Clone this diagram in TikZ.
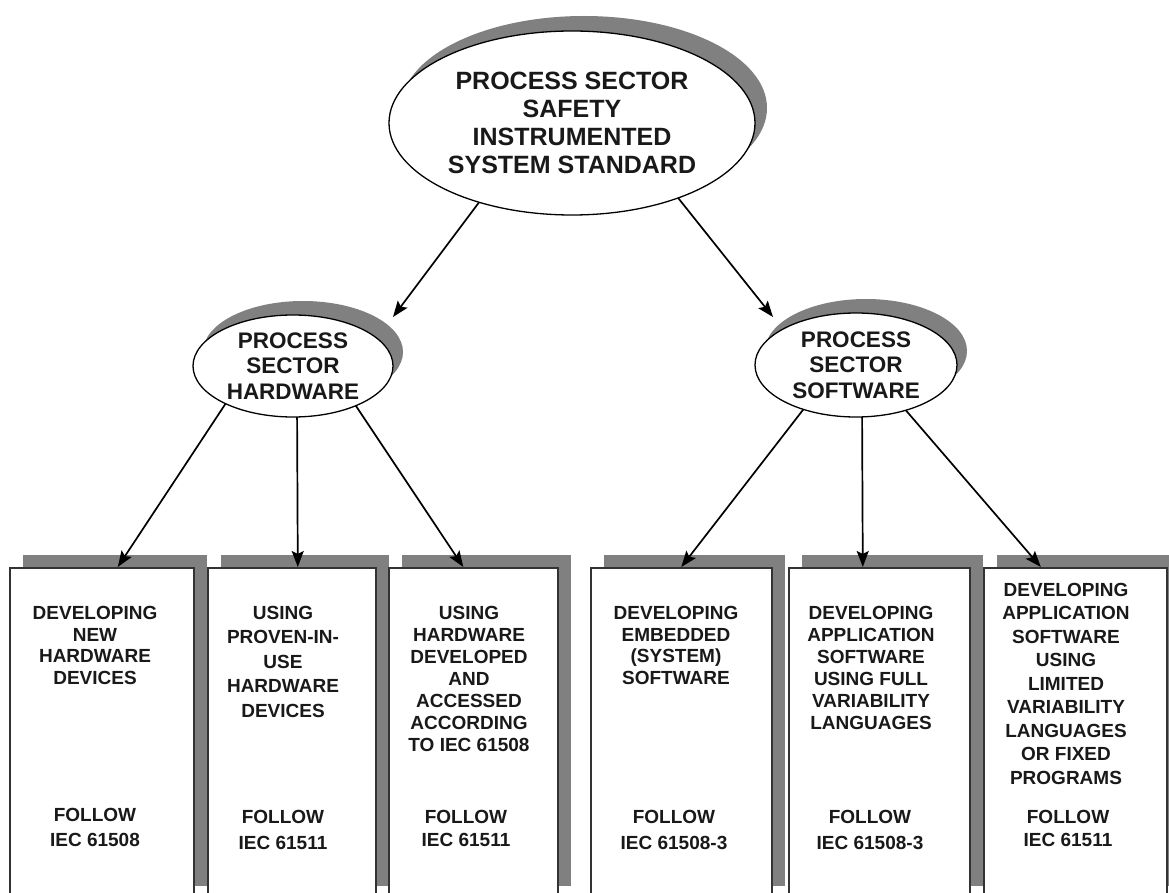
\documentclass[tikz,border=0pt]{standalone}
\usepackage{fontspec}
\setmainfont{Liberation Sans}
\usetikzlibrary{shapes.geometric,shadows,arrows.meta}
\definecolor{shd}{RGB}{128,128,128}
\definecolor{ink}{RGB}{25,25,25}
\pgfdeclarelayer{bg}
\pgfdeclarelayer{mid}
\pgfsetlayers{bg,mid,main}
\begin{document}
\begin{tikzpicture}[x=1pt,y=-1pt,
  ell/.style={ellipse, draw=black, line width=1.3pt, fill=white, inner sep=0pt, align=center, text=ink},
  bigfont/.style={font={\bfseries\fontsize{25}{28}\selectfont}},
  midfont/.style={font={\bfseries\fontsize{22.5}{25.5}\selectfont}},
  ellshadow/.style={general shadow={fill=shd, shadow xshift=10pt, shadow yshift=14pt}},
  stdbox/.style={rectangle, draw=black!80, line width=1.6pt, fill=white, anchor=north west,
    minimum height=331pt, inner sep=0pt,
    general shadow={fill=shd, shadow xshift=13pt, shadow yshift=13pt}},
  txt/.style={align=center, inner sep=0pt, anchor=north, text=ink},
  lead/.style={font={\bfseries\fontsize{19}{#1}\selectfont}},
  arr/.style={line width=1.7pt, draw=black, -{Stealth[length=16pt,width=12pt,inset=3pt]}}
]
\useasboundingbox (0,0) rectangle (1169,893);

% boxes
\begin{pgfonlayer}{bg}
\fill[white] (0,0) rectangle (1169,893);
\node[stdbox, minimum width=184pt] (b1) at (9,567) {};
\node[stdbox, minimum width=168pt] (b2) at (207,567) {};
\node[stdbox, minimum width=169pt] (b3) at (388,567) {};
\node[stdbox, minimum width=181pt] (b4) at (590,567) {};
\node[stdbox, minimum width=181pt] (b5) at (788,567) {};
\node[stdbox, minimum width=183pt] (b6) at (983,567) {};
\end{pgfonlayer}

% box texts
\node[txt, lead=21.7] (t1) at (95,606) {DEVELOPING\\NEW\\HARDWARE\\DEVICES};
\node[txt, lead=25] (f1) at (95,808) {FOLLOW\\IEC 61508};
\node[txt, lead=24.5] (t2) at (283,606) {USING\\PROVEN-IN-\\USE\\HARDWARE\\DEVICES};
\node[txt, lead=26] (f2) at (283,810) {FOLLOW\\IEC 61511};
\node[txt, lead=22] (t3) at (469,606) {USING\\HARDWARE\\DEVELOPED\\AND\\ACCESSED\\ACCORDING\\TO IEC 61508};
\node[txt, lead=23] (f3) at (466,810) {FOLLOW\\IEC 61511};
\node[txt, lead=21.7] (t4) at (676,606) {DEVELOPING\\EMBEDDED\\(SYSTEM)\\SOFTWARE};
\node[txt, lead=26] (f4) at (674,810) {FOLLOW\\IEC 61508-3};
\node[txt, lead=22] (t5) at (871,606) {DEVELOPING\\APPLICATION\\SOFTWARE\\USING FULL\\VARIABILITY\\LANGUAGES};
\node[txt, lead=26] (f5) at (870,810) {FOLLOW\\IEC 61508-3};
\node[txt, lead=23.5] (t6) at (1066,583) {DEVELOPING\\APPLICATION\\SOFTWARE\\USING\\LIMITED\\VARIABILITY\\LANGUAGES\\OR FIXED\\PROGRAMS};
\node[txt, lead=23] (f6) at (1068,810) {FOLLOW\\IEC 61511};

% ellipses
\node[ell, bigfont, general shadow={fill=shd, shadow xshift=12pt, shadow yshift=15pt},
  minimum width=366pt, minimum height=184pt] (top) at (572,123)
  {PROCESS SECTOR\\SAFETY\\INSTRUMENTED\\SYSTEM STANDARD};
\node[ell, midfont, ellshadow, minimum width=200pt, minimum height=102pt] (hw) at (293,366)
  {PROCESS\\SECTOR\\HARDWARE};
\node[ell, midfont, ellshadow, minimum width=202pt, minimum height=104pt] (sw) at (856,365)
  {PROCESS\\SECTOR\\SOFTWARE};

% connectors
\begin{pgfonlayer}{mid}
\draw[arr] ([xshift=-86pt,yshift=-70pt]top.center) -- ([xshift=100pt,yshift=49pt]hw.center);
\draw[arr] ([xshift=99pt,yshift=-66pt]top.center) -- ([xshift=-83pt,yshift=48pt]sw.center);
\draw[arr] ([xshift=-65pt,yshift=-34pt]hw.center) -- ([xshift=16pt]b1.north);
\draw[arr] ([xshift=4pt,yshift=-34pt]hw.center) -- ([xshift=6pt]b2.north);
\draw[arr] ([xshift=59pt,yshift=-34pt]hw.center) -- ([xshift=-10pt]b3.north);
\draw[arr] ([xshift=-50pt,yshift=-41pt]sw.center) -- ([xshift=0pt]b4.north);
\draw[arr] ([xshift=6pt,yshift=-35pt]sw.center) -- ([xshift=-16.5pt]b5.north);
\draw[arr] ([xshift=47pt,yshift=-42pt]sw.center) -- ([xshift=-34.5pt]b6.north);
\end{pgfonlayer}
\end{tikzpicture}
\end{document}
